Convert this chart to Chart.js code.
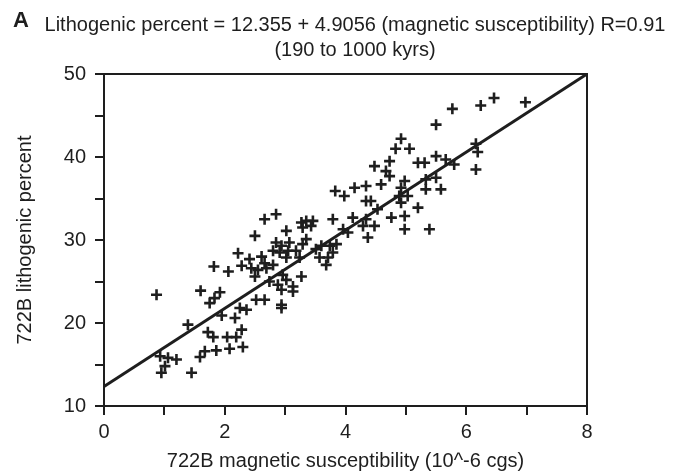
<!DOCTYPE html>
<html>
<head>
<meta charset="utf-8">
<script src="https://cdn.jsdelivr.net/npm/chart.js@4.4.1/dist/chart.umd.min.js"></script>
<style>
  html, body { margin: 0; padding: 0; background: #ffffff; }
  #wrap { position: relative; width: 677px; height: 472px; }
  canvas { display: block; }
</style>
</head>
<body>
<div id="wrap"><canvas id="c" width="677" height="472"></canvas></div>
<script>
// ---- data ----
const susceptibility = [
  0.87,1.60,1.82,2.06,1.92,1.83,1.75,1.39,0.93,1.06,1.20,1.01,0.95,1.45,1.59,1.67,1.86,2.08,2.30,1.72,1.81,2.04,2.19,2.28,1.95,2.17,2.25,2.36,2.52,2.66,
  2.22,2.28,2.41,2.44,2.50,2.61,2.66,2.55,2.69,2.74,2.50,2.66,2.85,3.02,3.27,3.35,3.46,3.29,3.43,3.79,3.35,3.29,2.85,2.94,3.07,2.80,2.91,3.05,3.18,3.24,
  3.02,2.80,2.96,3.02,3.27,3.13,2.88,2.94,2.94,2.94,3.13,3.51,3.60,3.74,3.85,3.57,3.71,3.68,3.79,4.04,3.83,3.98,4.15,
  5.50,4.92,4.83,5.06,4.48,4.73,4.67,4.73,5.20,5.31,5.50,5.66,5.50,4.59,4.34,4.98,4.92,4.89,5.03,5.33,5.58,4.34,4.42,4.92,5.20,4.53,4.12,4.34,4.76,4.98,
  4.29,4.48,4.98,5.39,4.37,3.96,6.46,6.24,6.98,5.77,6.16,6.19,6.16,5.80,5.33
];
const lithogenic = [
  23.4,23.9,26.8,26.2,23.7,23.0,22.4,19.8,16.0,15.8,15.6,14.8,14.0,14.0,15.9,16.6,16.7,16.9,17.1,18.9,18.3,18.3,18.3,19.2,20.9,20.6,21.8,21.6,22.8,22.8,
  28.4,26.9,27.7,26.6,25.6,28.0,27.2,26.4,26.6,25.0,30.5,32.5,33.1,31.1,32.1,32.3,32.3,31.5,31.7,32.5,30.1,29.5,29.7,29.3,29.7,28.7,28.5,28.7,28.7,27.9,
  27.9,27.0,25.8,25.2,25.6,24.4,24.6,24.0,22.2,21.8,23.8,28.9,29.3,29.3,29.5,27.9,27.9,27.0,28.5,30.9,35.9,35.3,36.3,
  43.9,42.2,41.0,41.0,38.9,39.5,38.3,37.7,39.3,39.3,40.1,39.7,37.5,36.7,36.5,37.1,36.3,35.3,35.3,36.1,36.1,34.7,34.7,34.5,33.9,33.7,32.7,32.5,32.7,32.9,
  31.7,31.7,31.3,31.3,30.3,31.3,47.1,46.2,46.6,45.8,41.6,40.6,38.5,39.1,37.3
];
// regression line as drawn (from the y-axis intercept to the top-right corner)
const fitX = [0, 8];
const fitY = [12.355, 50];

const xRange = [0, 8];
const yRange = [10, 50];
const xLabelEvery = 2;
const yLabelEvery = 10;

const panelLetter = 'A';
const titleLine1 = 'Lithogenic percent = 12.355 + 4.9056 (magnetic susceptibility) R=0.91';
const titleLine2 = '(190 to 1000 kyrs)';
const xTitle = '722B magnetic susceptibility (10^-6 cgs)';
const yTitle = '722B lithogenic percent';

// ---- chart ----
const INK = '#1e1e1e';
const FONT = '"Liberation Sans", Arial, Helvetica, sans-serif';

const scatterData = susceptibility.map((x, i) => ({ x: x, y: lithogenic[i] }));
const fitData = fitX.map((x, i) => ({ x: x, y: fitY[i] }));

const frameAndTitles = {
  id: 'frameAndTitles',
  beforeDatasetsDraw(chart) {
    const { ctx, chartArea: a } = chart;
    ctx.save();
    ctx.strokeStyle = INK;
    ctx.lineWidth = 2;
    ctx.strokeRect(a.left, a.top, a.right - a.left, a.bottom - a.top);
    ctx.restore();
  },
  afterDraw(chart) {
    const { ctx } = chart;
    ctx.save();
    ctx.fillStyle = INK;
    ctx.textBaseline = 'alphabetic';
    ctx.font = 'bold 22px ' + FONT;
    ctx.textAlign = 'left';
    ctx.fillText(panelLetter, 13, 27);
    ctx.font = '20px ' + FONT;
    ctx.textAlign = 'center';
    ctx.fillText(titleLine1, 355, 31);
    ctx.fillText(titleLine2, 355, 56);
    ctx.restore();
  }
};

new Chart(document.getElementById('c'), {
  type: 'scatter',
  data: {
    datasets: [
      {
        type: 'line',
        data: fitData,
        borderColor: INK,
        borderWidth: 3,
        pointRadius: 0,
        fill: false,
        tension: 0,
        order: 1
      },
      {
        type: 'scatter',
        data: scatterData,
        pointStyle: 'cross',
        pointRadius: 5.5,
        pointHoverRadius: 5.5,
        borderColor: INK,
        backgroundColor: INK,
        pointBorderWidth: 2.6,
        borderWidth: 2.6,
        order: 0
      }
    ]
  },
  options: {
    responsive: false,
    devicePixelRatio: 1,
    animation: false,
    layout: { padding: { top: 74, left: 0, right: 90, bottom: 0 } },
    plugins: {
      legend: { display: false },
      tooltip: { enabled: false },
      title: { display: false }
    },
    scales: {
      x: {
        type: 'linear',
        position: 'bottom',
        min: xRange[0],
        max: xRange[1],
        afterFit(scale) { scale.height = 66; },
        ticks: {
          stepSize: 1,
          padding: 5,
          color: INK,
          font: { family: FONT, size: 20 },
          callback: (v) => (v % xLabelEvery === 0 ? String(v) : '')
        },
        grid: { drawOnChartArea: false, drawTicks: true, tickLength: 9, color: INK, lineWidth: 2 },
        border: { display: true, color: INK, width: 2 },
        title: {
          display: true,
          text: xTitle,
          color: INK,
          font: { family: FONT, size: 20 },
          padding: { top: 0, bottom: -1 }
        }
      },
      y: {
        type: 'linear',
        position: 'left',
        min: yRange[0],
        max: yRange[1],
        afterFit(scale) { scale.width = 104; },
        ticks: {
          stepSize: 5,
          padding: 9,
          color: INK,
          font: { family: FONT, size: 20 },
          callback: (v) => (v % yLabelEvery === 0 ? String(v) : '')
        },
        grid: { drawOnChartArea: false, drawTicks: true, tickLength: 9, color: INK, lineWidth: 2 },
        border: { display: true, color: INK, width: 2 },
        title: {
          display: true,
          text: yTitle,
          color: INK,
          font: { family: FONT, size: 20 },
          padding: { top: 13, bottom: 0 }
        }
      }
    }
  },
  plugins: [frameAndTitles]
});
</script>
</body>
</html>
